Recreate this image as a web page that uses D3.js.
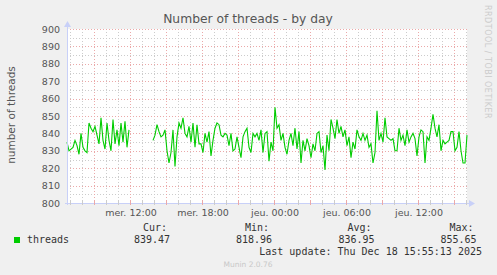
<!DOCTYPE html>
<html>
<head>
<meta charset="utf-8">
<script src="https://cdn.jsdelivr.net/npm/d3@7"></script>
<style>
  body { margin: 0; background: #f0f0f0; }
  svg { display: block; }
  text { font-family: "DejaVu Sans", sans-serif; }
  .mono { font-family: "DejaVu Sans Mono", monospace; font-size: 10px; fill: #333; }
</style>
</head>
<body>
<div id="chart"></div>
<script>
// samples every 10 minutes, starting Wed 17 Dec 2025 06:45 (null = no data)
const startTime = new Date(2025, 11, 17, 6, 45);
const stepMinutes = 10;
const threads = [
  835, 830, 831, 832, 836, 833, 828, 840, 832, 830,
  829, 846, 843, 841, 844, 839, 834, 849, 836, 831,
  846, 836, 830, 848, 834, 842, 833, 846, 835, 847,
  832, 842, null, null, null, null, null, null, null, null,
  null, null, null, 836, 839, 845, 841, 838, 839, 842,
  830, 823, 829, 842, 821, 838, 846, 843, 849, 840,
  838, 844, 835, 846, 832, 845, 834, 834, 829, 840,
  835, 841, 827, 836, 843, 846, 845, 839, 838, 840,
  839, 833, 840, 830, 831, 838, 832, 826, 838, 841,
  843, 832, 829, 840, 838, 840, 836, 842, 829, 840,
  841, 824, 835, 830, 855, 843, 845, 836, 840, 832,
  828, 836, 840, 833, 843, 831, 841, 823, 836, 830,
  837, 833, 826, 834, 830, 840, 841, 829, 833, 819,
  839, 830, 848, 843, 837, 848, 840, 844, 838, 842,
  833, 838, 826, 835, 831, 842, 838, 836, 840, 836,
  839, 832, 834, 823, 829, 853, 836, 840, 835, 849,
  838, 837, 836, 837, 830, 830, 843, 836, 839, 833,
  842, 835, 838, 840, 837, 827, 838, 842, 841, 823,
  838, 836, 843, 851, 843, 838, 845, 830, 836, 834,
  835, 836, 841, 841, 830, 832, 841, 830, 823, 823,
  839
];
const yTicks = [800, 810, 820, 830, 840, 850, 860, 870, 880, 890, 900];
const dayNames = ['dim.', 'lun.', 'mar.', 'mer.', 'jeu.', 'ven.', 'sam.'];
const legendHeads = ['Cur:', 'Min:', 'Avg:', 'Max:'];
const legendValues = ['839.47', '818.96', '836.95', '855.65'];

const W = 497, H = 275;
const margin = { top: 29, left: 67, right: 30, bottom: 72 };
const width = W - margin.left - margin.right;   // 400
const height = H - margin.top - margin.bottom;  // 174

const svg = d3.select('#chart').append('svg')
  .attr('width', W)
  .attr('height', H);

svg.append('rect').attr('width', W).attr('height', H).attr('fill', '#f0f0f0');

const data = threads.map((v, i) => ({
  t: new Date(startTime.getTime() + i * stepMinutes * 60000),
  v: v
}));

const x = d3.scaleTime()
  .domain([data[0].t, data[data.length - 1].t])
  .range([margin.left, margin.left + width]);
const y = d3.scaleLinear().domain([800, 900]).range([margin.top + height, margin.top]);

// canvas
svg.append('rect')
  .attr('x', margin.left).attr('y', margin.top)
  .attr('width', width).attr('height', height)
  .attr('fill', '#ffffff');

const grid = svg.append('g');
const hours = x.ticks(d3.timeHour.every(1));
const minorY = d3.range(805, 900, 10);
const majorColor = '#eba9a9';
const minorColor = '#cccccc';

// minor grid
grid.selectAll('.vmin').data(hours.filter(d => d.getHours() % 3 !== 0)).enter()
  .append('line')
  .attr('x1', d => Math.round(x(d)) + 0.5).attr('x2', d => Math.round(x(d)) + 0.5)
  .attr('y1', margin.top).attr('y2', margin.top + height)
  .attr('stroke', minorColor).attr('stroke-dasharray', '1,2');
grid.selectAll('.hmin').data(minorY).enter()
  .append('line')
  .attr('x1', margin.left).attr('x2', margin.left + width)
  .attr('y1', d => Math.round(y(d)) + 0.5).attr('y2', d => Math.round(y(d)) + 0.5)
  .attr('stroke', minorColor).attr('stroke-dasharray', '1,2');

// major grid
grid.selectAll('.vmaj').data(hours.filter(d => d.getHours() % 3 === 0)).enter()
  .append('line')
  .attr('x1', d => Math.round(x(d)) + 0.5).attr('x2', d => Math.round(x(d)) + 0.5)
  .attr('y1', margin.top).attr('y2', margin.top + height)
  .attr('stroke', majorColor).attr('stroke-dasharray', '1,2');
grid.selectAll('.hmaj').data(yTicks).enter()
  .append('line')
  .attr('x1', margin.left).attr('x2', margin.left + width + 2)
  .attr('y1', d => Math.round(y(d)) + 0.5).attr('y2', d => Math.round(y(d)) + 0.5)
  .attr('stroke', majorColor).attr('stroke-dasharray', '1,2');

// data line
const line = d3.line()
  .defined(d => d.v !== null)
  .x(d => x(d.t))
  .y(d => y(d.v));
svg.append('path')
  .datum(data)
  .attr('d', line)
  .attr('fill', 'none')
  .attr('stroke', '#00cc00')
  .attr('stroke-width', 1.1);

// axes
const axisColor = '#c8d0f8';
svg.append('line')
  .attr('x1', margin.left + 0.5).attr('x2', margin.left + 0.5)
  .attr('y1', margin.top + height + 2).attr('y2', margin.top - 5)
  .attr('stroke', axisColor);
svg.append('path')
  .attr('d', `M${margin.left - 3},${margin.top - 2}L${margin.left + 4},${margin.top - 2}L${margin.left + 0.5},${margin.top - 8}Z`)
  .attr('fill', axisColor);
svg.append('line')
  .attr('x1', margin.left - 2).attr('x2', margin.left + width + 4)
  .attr('y1', margin.top + height + 0.5).attr('y2', margin.top + height + 0.5)
  .attr('stroke', axisColor);
svg.append('path')
  .attr('d', `M${margin.left + width + 2},${margin.top + height - 3}L${margin.left + width + 2},${margin.top + height + 4}L${margin.left + width + 8},${margin.top + height + 0.5}Z`)
  .attr('fill', axisColor);

// x ticks
svg.append('g').selectAll('line').data(hours).enter()
  .append('line')
  .attr('x1', d => Math.round(x(d)) + 0.5).attr('x2', d => Math.round(x(d)) + 0.5)
  .attr('y1', margin.top + height - 2).attr('y2', margin.top + height + 2)
  .attr('stroke', d => d.getHours() % 3 === 0 ? majorColor : minorColor);

const fmtHour = d3.timeFormat('%H:%M');
svg.append('g').selectAll('text')
  .data(x.ticks(d3.timeHour.every(6)).filter(d => x(d) > margin.left + 30))
  .enter().append('text')
  .attr('x', d => x(d) + 1)
  .attr('y', margin.top + height + 13)
  .attr('text-anchor', 'middle')
  .attr('font-size', 9.5)
  .attr('fill', '#555')
  .text(d => dayNames[d.getDay()] + ' ' + fmtHour(d));

// y tick labels
svg.append('g').selectAll('text').data(yTicks).enter()
  .append('text')
  .attr('x', margin.left - 7)
  .attr('y', d => y(d) + 3.5)
  .attr('text-anchor', 'end')
  .attr('font-size', 9.5)
  .attr('fill', '#555')
  .text(d => d);

// title and labels
svg.append('text')
  .attr('x', 248).attr('y', 23)
  .attr('text-anchor', 'middle')
  .attr('font-size', 12.3)
  .attr('fill', '#555')
  .text('Number of threads - by day');

svg.append('text')
  .attr('transform', `translate(15, ${margin.top + height / 2 - 1}) rotate(-90)`)
  .attr('text-anchor', 'middle')
  .attr('font-size', 10.5)
  .attr('fill', '#555')
  .text('number of threads');

svg.append('text')
  .attr('transform', 'translate(485, 5) rotate(90)')
  .attr('font-size', 8)
  .attr('letter-spacing', 0.5)
  .attr('fill', '#cccccc')
  .text('RRDTOOL / TOBI OETIKER');

// legend
svg.append('rect')
  .attr('x', 14).attr('y', 237).attr('width', 6).attr('height', 6)
  .attr('fill', '#00cc00');
svg.append('text').attr('class', 'mono')
  .attr('x', 27).attr('y', 243)
  .text('threads');

const legendX = [152, 254, 356.5, 458.5];
svg.append('g').selectAll('text').data(legendHeads).enter()
  .append('text').attr('class', 'mono')
  .attr('x', (d, i) => legendX[i] + 3)
  .attr('y', 231)
  .attr('text-anchor', 'middle')
  .text(d => d);
svg.append('g').selectAll('text').data(legendValues).enter()
  .append('text').attr('class', 'mono')
  .attr('x', (d, i) => legendX[i])
  .attr('y', 243)
  .attr('text-anchor', 'middle')
  .text(d => d);

svg.append('text').attr('class', 'mono')
  .attr('x', 482).attr('y', 255)
  .attr('text-anchor', 'end')
  .text('Last update: Thu Dec 18 15:55:13 2025');

svg.append('text')
  .attr('x', 248).attr('y', 267)
  .attr('text-anchor', 'middle')
  .attr('font-size', 7.5)
  .attr('fill', '#c8c8c8')
  .text('Munin 2.0.76');
</script>
</body>
</html>
